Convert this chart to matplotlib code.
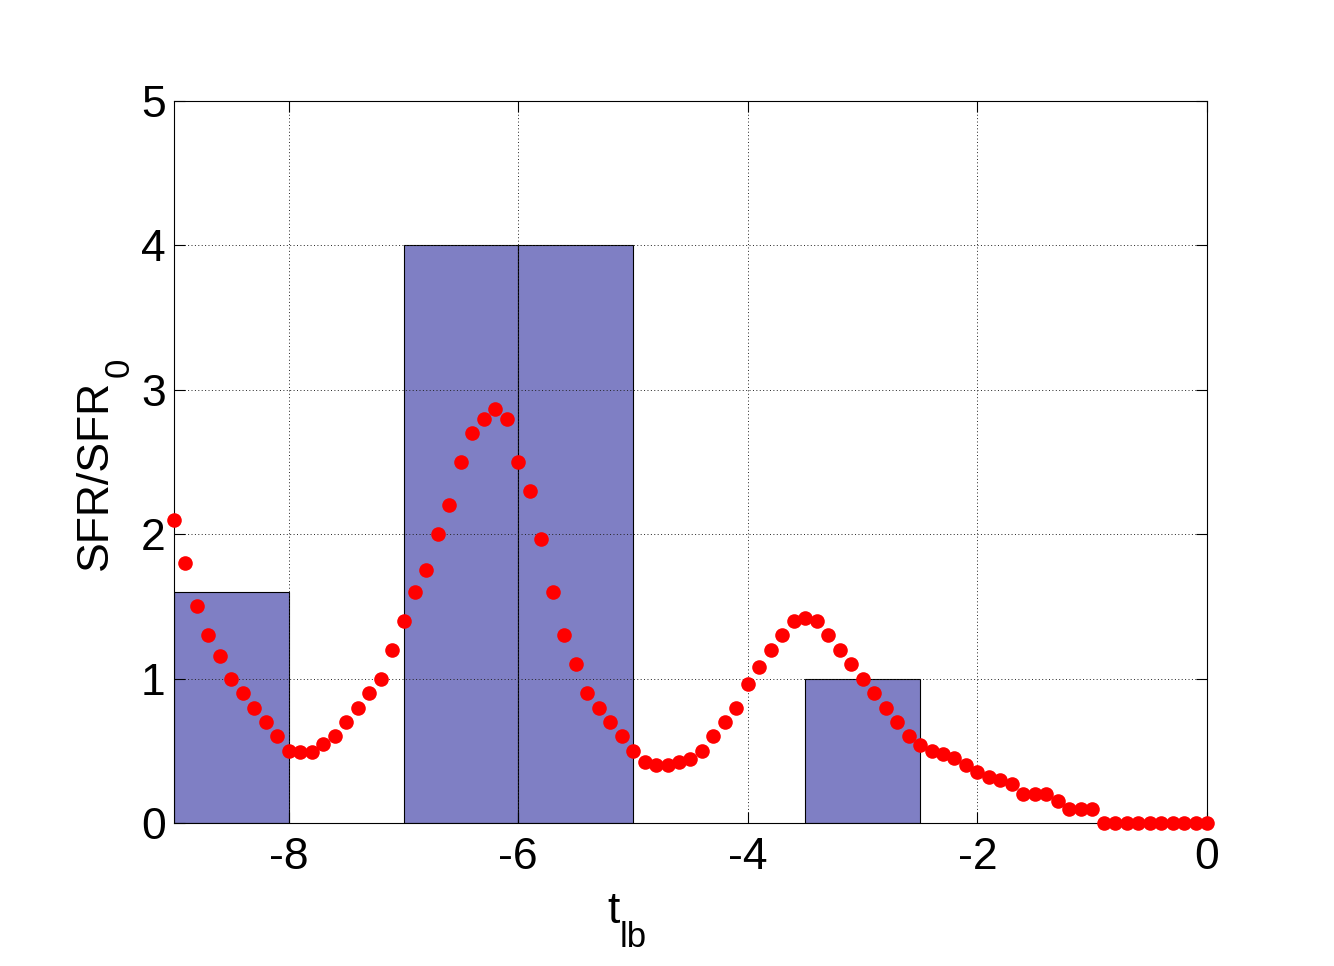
import numpy as np
import matplotlib.pyplot as plt

plt.rcParams['font.family'] = ['Liberation Sans', 'DejaVu Sans']
plt.rcParams['axes.unicode_minus'] = False

# histogram bins (left edge, width, height)
bar_left = [-9.0, -7.0, -6.0, -3.5]
bar_width = [1.0, 1.0, 1.0, 1.0]
bar_height = [1.6, 4.0, 4.0, 1.0]

# model star formation history
t = [-9.0, -8.9, -8.8, -8.7, -8.6, -8.5, -8.4, -8.3, -8.2, -8.1,
     -8.0, -7.9, -7.8, -7.7, -7.6, -7.5, -7.4, -7.3, -7.2, -7.1,
     -7.0, -6.9, -6.8, -6.7, -6.6, -6.5, -6.4, -6.3, -6.2, -6.1,
     -6.0, -5.9, -5.8, -5.7, -5.6, -5.5, -5.4, -5.3, -5.2, -5.1,
     -5.0, -4.9, -4.8, -4.7, -4.6, -4.5, -4.4, -4.3, -4.2, -4.1,
     -4.0, -3.9, -3.8, -3.7, -3.6, -3.5, -3.4, -3.3, -3.2, -3.1,
     -3.0, -2.9, -2.8, -2.7, -2.6, -2.5, -2.4, -2.3, -2.2, -2.1,
     -2.0, -1.9, -1.8, -1.7, -1.6, -1.5, -1.4, -1.3, -1.2, -1.1,
     -1.0, -0.9, -0.8, -0.7, -0.6, -0.5, -0.4, -0.3, -0.2, -0.1, 0.0]
sfr = [2.10, 1.80, 1.50, 1.30, 1.16, 1.00, 0.90, 0.80, 0.70, 0.60,
       0.50, 0.49, 0.49, 0.55, 0.60, 0.70, 0.80, 0.90, 1.00, 1.20,
       1.40, 1.60, 1.75, 2.00, 2.20, 2.50, 2.70, 2.80, 2.87, 2.80,
       2.50, 2.30, 1.97, 1.60, 1.30, 1.10, 0.90, 0.80, 0.70, 0.60,
       0.50, 0.42, 0.40, 0.40, 0.42, 0.44, 0.50, 0.60, 0.70, 0.80,
       0.96, 1.08, 1.20, 1.30, 1.40, 1.42, 1.40, 1.30, 1.20, 1.10,
       1.00, 0.90, 0.80, 0.70, 0.60, 0.54, 0.50, 0.48, 0.45, 0.40,
       0.35, 0.32, 0.30, 0.27, 0.20, 0.20, 0.20, 0.15, 0.10, 0.10,
       0.10, 0.0, 0.0, 0.0, 0.0, 0.0, 0.0, 0.0, 0.0, 0.0, 0.0]

xticks = [-8, -6, -4, -2, 0]
yticks = [0, 1, 2, 3, 4, 5]

fig = plt.figure(figsize=(13.34, 9.66), dpi=100)
ax = fig.add_axes([0.1304, 0.148, 0.7744, 0.7474])

ax.bar(bar_left, bar_height, width=bar_width, align='edge',
       color='#7f7fc4', edgecolor='black', linewidth=0.8, zorder=2)
ax.plot(t, sfr, 'o', color='red', markersize=10.5, markeredgewidth=0,
        zorder=5, clip_on=False)

ax.set_xlim(-9, 0)
ax.set_ylim(0, 5)
ax.set_xticks(xticks)
ax.set_yticks(yticks)
ax.grid(True, linestyle=(0, (1, 2.5)), color='#222222', linewidth=0.7, zorder=1)
ax.set_axisbelow(False)
ax.tick_params(direction='in', top=True, right=True, labelsize=32, length=8)
ax.tick_params(axis='x', pad=10)
ax.tick_params(axis='y', pad=6)
for s in ax.spines.values():
    s.set_linewidth(0.8)
    s.set_zorder(4)

# axis labels as MATLAB draws them: big, low subscripts
ax.text(0.420, -0.1385, 't', transform=ax.transAxes, fontsize=32,
        ha='left', va='baseline')
ax.text(0.4315, -0.1715, 'lb', transform=ax.transAxes, fontsize=25,
        ha='left', va='baseline')
ax.text(-0.0649, 0.3504, 'SFR/SFR', transform=ax.transAxes, fontsize=32,
        rotation=90, rotation_mode='anchor', ha='left', va='baseline')
ax.text(-0.0436, 0.6177, '0', transform=ax.transAxes, fontsize=25,
        rotation=90, rotation_mode='anchor', ha='left', va='baseline')

fig.savefig('out.png', dpi=100)
